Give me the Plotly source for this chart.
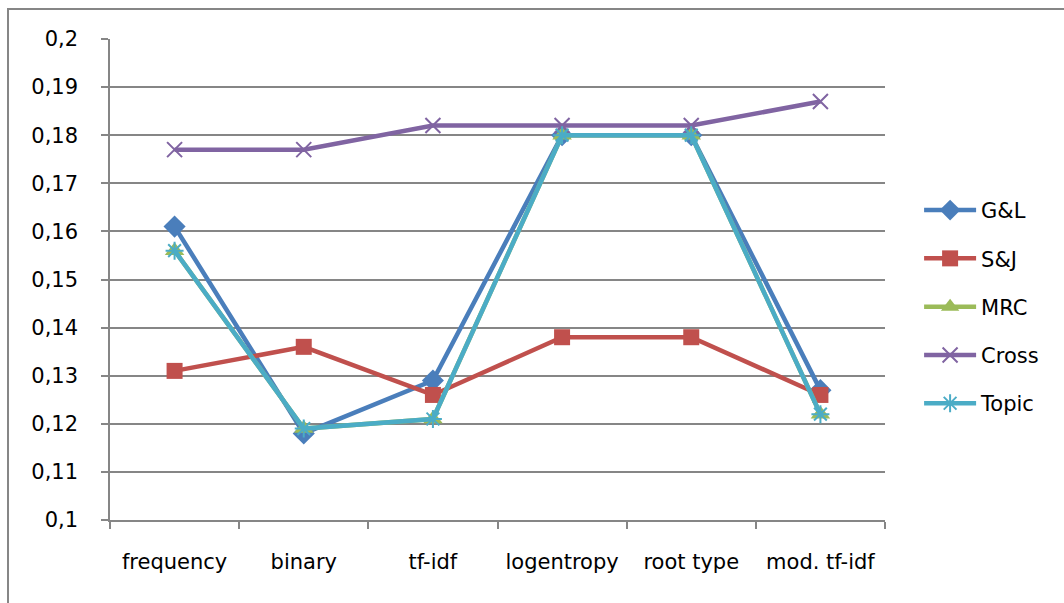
import plotly.graph_objects as go

categories = ["frequency", "binary", "tf-idf", "logentropy", "root type", "mod. tf-idf"]

gl = [0.161, 0.118, 0.129, 0.180, 0.180, 0.127]
sj = [0.131, 0.136, 0.126, 0.138, 0.138, 0.126]
mrc = [0.156, 0.119, 0.121, 0.180, 0.180, 0.122]
cross = [0.177, 0.177, 0.182, 0.182, 0.182, 0.187]
topic = [0.156, 0.119, 0.121, 0.180, 0.180, 0.122]

y_tick_vals = [0.1, 0.11, 0.12, 0.13, 0.14, 0.15, 0.16, 0.17, 0.18, 0.19, 0.2]
y_tick_text = ["0,1", "0,11", "0,12", "0,13", "0,14", "0,15", "0,16", "0,17", "0,18", "0,19", "0,2"]

series = [
    ("G&L", gl, "#4A7EBB", dict(symbol="diamond", size=17)),
    ("S&J", sj, "#C0504D", dict(symbol="square", size=16)),
    ("MRC", mrc, "#9BBB59", dict(symbol="triangle-up", size=17)),
    ("Cross", cross, "#8064A2", dict(symbol="x-thin", size=15)),
    ("Topic", topic, "#4BACC6", dict(symbol="asterisk", size=15)),
]

fig = go.Figure()
for name, vals, color, mk in series:
    marker = dict(color=color, **mk)
    if mk["symbol"] in ("x-thin", "asterisk"):
        marker["line"] = dict(color=color, width=2)
    fig.add_trace(go.Scatter(
        x=categories, y=vals, name=name, mode="lines+markers",
        line=dict(color=color, width=4.5), marker=marker,
        legendgroup=name,
    ))

font = dict(family="DejaVu Sans", size=21, color="#000000")

fig.update_layout(
    width=1064, height=603,
    margin=dict(l=110, r=179, t=39, b=83),
    paper_bgcolor="white", plot_bgcolor="white",
    font=font,
    showlegend=True,
    legend=dict(
        x=1.044, xanchor="left", y=0.443, yanchor="middle",
        font=font, itemwidth=52, tracegroupgap=18,
        bgcolor="rgba(0,0,0,0)",
    ),
    xaxis=dict(
        type="category", range=[-0.5, 5.5], tickson="boundaries",
        ticks="outside", ticklen=7, tickcolor="#868686", tickwidth=1.5,
        showline=True, linecolor="#868686", linewidth=1.5,
        showgrid=False, ticklabelstandoff=22, tickfont=font,
    ),
    yaxis=dict(
        range=[0.1, 0.2], tickvals=y_tick_vals, ticktext=y_tick_text,
        ticks="outside", ticklen=7, tickcolor="#868686", tickwidth=1.5,
        showline=True, linecolor="#868686", linewidth=1.5,
        showgrid=True, gridcolor="#868686", gridwidth=1.5,
        zeroline=False, tickfont=font, ticklabelstandoff=19,
    ),
    shapes=[dict(
        type="rect", xref="paper", yref="paper",
        x0=-0.1316, x1=1.26, y0=-0.2, y1=1.0624,
        line=dict(color="#868686", width=2), fillcolor="rgba(0,0,0,0)",
        layer="below",
    )],
)

fig.write_html("out.html")
